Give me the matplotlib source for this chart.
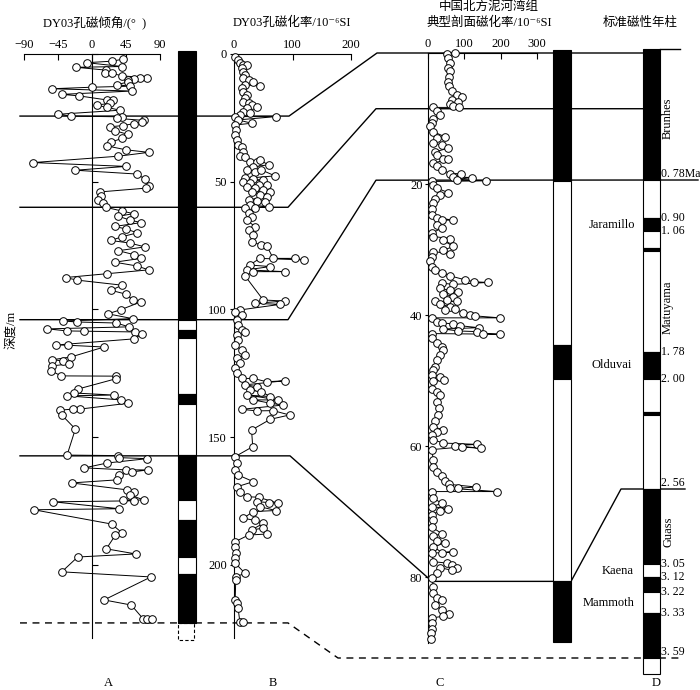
import numpy as np
import matplotlib
matplotlib.use('Agg')
import matplotlib.pyplot as plt
from matplotlib.lines import Line2D
from matplotlib.patches import Rectangle
from matplotlib.transforms import blended_transform_factory

plt.rcParams['font.family'] = ['Liberation Serif', 'Noto Sans CJK SC', 'DejaVu Sans']
plt.rcParams['font.size'] = 9

# ---- data -------------------------------------------------------------
# A: DY03 inclination (depth m, degrees)
incl_depth = [2.0, 2.8, 3.4, 4.9, 5.2, 6.3, 7.3, 7.5, 8.6, 9.2, 9.4, 9.6, 10.2, 11.0,
              12.0, 12.6, 13.0, 13.6, 14.5, 15.8, 16.4, 18.0, 18.2, 19.3, 20.0, 20.9,
              22.0, 23.6, 24.3, 24.6, 25.2, 26.0, 26.8, 27.3, 28.0, 28.5,
              30.0, 31.5, 33.0, 34.5, 36.0, 37.5, 38.5, 40.0, 42.5, 44.0, 45.5, 47.0,
              49.0, 51.5, 52.5, 54.0, 55.5, 57.0, 58.5, 60.0, 61.5, 62.5, 63.5, 65.0,
              66.0, 67.5, 68.5, 70.0, 71.5, 73.0, 74.0, 75.5, 77.0, 78.5, 80.0, 81.5,
              83.0, 84.5, 86.0, 87.5, 88.5, 90.5, 92.5, 94.0,
              96.3, 97.0, 100.1, 101.7, 103.6, 104.5, 104.9, 105.3, 106.8, 107.6, 108.4,
              108.5, 108.8, 109.6, 111.5, 113.9, 114.0, 114.7, 118.6, 119.7, 120.1, 121.3,
              122.1, 124.0, 126.0, 126.1, 127.1, 131.1, 132.7, 133.5, 133.8, 135.4, 136.7,
              139.0, 139.0, 139.4, 141.3, 146.8, 157.0,
              157.2, 158.0, 158.4, 160.1, 162.0, 162.8, 162.8, 163.6, 164.8, 166.7, 167.9,
              170.6, 171.4, 172.6, 174.6, 174.6, 174.9, 175.3, 178.0, 178.4, 184.0, 187.5,
              188.3, 193.7, 195.7, 196.9, 202.7, 204.7, 213.7, 215.7, 221.2, 221.2, 221.2]
incl_value = [41, 27, -7, 40, -21, 18, 17, 26, 40, 73, 63, 55, 48, 47,
              33, 50, 0, -53, 53, -40, -17, 20, 28, 24, 6, 20,
              37, -45, -28, 40, 33, 69, 66, 55, 41, 24,
              30, 48, 40, 25, 20, 45, 75, 35, -78, 45, -22, 60,
              70, 75, 72, 10, 12, 8, 15, 18, 40, 55, 35, 50,
              65, 30, 45, 60, 40, 25, 50, 70, 35, 55, 65, 30,
              60, 75, 20, -35, -20, 40, 25, 45,
              54, 65, 38, 21, 54, -39, -20, 32, 49, -59, -33,
              -10, 57, 66, 56, -47, -32, 16, -28, -53, -39, -30,
              -53, -54, -41, 32, 32, -18, -24, 29, -33, 38, 48,
              -16, -25, -42, -40, -22, -33,
              34, 36, 73, 20, -10, 45, 74, 53, 36, 33, -27,
              46, 55, 50, 69, 41, 55, -51, 36, -77, 26, 40,
              31, 19, 58, -19, -40, 78, 16, 52, 68, 73, 80]

# B: DY03 susceptibility (depth m, 10^-6 SI)
susB_depth = [1.3, 2.3, 3.6, 4.3, 4.3, 5.6, 6.9, 8.2, 9.5, 10.2, 10.8, 12.5, 12.1, 13.4,
              14.7, 16.0, 17.3, 18.7, 19.3, 20.0, 20.9, 21.3, 22.6, 23.2, 23.9, 24.5,
              24.5, 25.8, 27.1, 27.8, 29.7, 31.7, 33.7, 35.6, 36.3, 38.2, 39.9, 40.2,
              42.1, 42.1, 41.5, 43.4, 44.1, 45.4, 46.1, 45.4, 47.7, 48.7, 49.1, 49.3,
              50.0, 50.6, 51.3, 51.3, 51.9, 52.6, 53.2, 53.9, 53.9, 55.2, 55.8, 57.1,
              57.5, 57.8, 59.1, 59.8, 60.4, 60.4, 62.4, 63.7, 65.0, 67.6, 68.9, 70.8,
              73.5, 74.8, 75.1, 80.0, 80.0, 80.6, 80.0, 82.6, 83.2, 84.5, 85.2, 85.2,
              86.9, 96.3, 96.7, 97.6, 98.0, 100.2, 100.9, 102.2, 104.1, 106.1, 108.0,
              108.7, 110.0, 111.9, 113.9, 115.9, 117.8, 119.1, 121.1, 123.0, 125.0,
              127.0, 127.0, 128.3, 127.9, 129.5, 130.2, 131.5, 132.2, 134.1, 133.5,
              135.4, 135.4, 136.7, 137.4, 139.1, 139.7, 139.6, 141.3, 143.0, 147.2,
              153.7, 157.6, 160.2, 162.8, 164.8, 167.4, 169.4, 171.3, 173.3, 173.5,
              175.9, 175.6, 175.2, 177.2, 178.7, 179.1, 181.7, 182.6, 183.7, 186.3,
              185.6, 187.9, 188.3, 190.9, 192.8, 195.4, 197.4, 199.3, 203.3, 204.6,
              205.9, 213.7, 215.0, 217.0, 222.2, 222.2]
susB_value = [2, 7, 10, 16, 22, 13, 16, 19, 16, 25, 33, 44, 19, 13,
              16, 22, 19, 16, 25, 30, 40, 22, 16, 27, 10, 2,
              72, 7, 30, 2, 3, 2, 5, 7, 13, 16, 10, 19,
              27, 39, 44, 59, 33, 22, 36, 47, 70, 19, 33, 50,
              16, 27, 42, 56, 22, 36, 50, 62, 30, 44, 56, 25,
              39, 53, 27, 60, 19, 36, 25, 30, 22, 36, 25, 33,
              30, 47, 56, 67, 104, 120, 44, 27, 62, 22, 87, 33,
              19, 50, 87, 36, 79, 10, 2, 13, 5, 7, 13,
              19, 5, 7, 2, 13, 19, 5, 10, 2, 5,
              13, 33, 56, 87, 19, 39, 27, 47, 62, 22,
              76, 33, 62, 84, 13, 39, 67, 95, 62, 30,
              32, 2, 5, 2, 7, 33, 5, 10, 22, 42,
              76, 59, 39, 44, 72, 33, 16, 36, 50, 30,
              50, 56, 25, 2, 2, 3, 2, 2, 19, 3,
              3, 2, 5, 7, 10, 15]

# C: Nihewan Formation typical section susceptibility (depth m, 10^-6 SI)
susC_depth = [0.0, 0.2, 0.8, 1.6, 2.3, 2.8, 3.6, 4.4, 5.1, 5.8, 6.4, 6.7, 7.1, 7.4,
              7.8, 8.1, 8.3, 8.3, 8.8, 9.5, 10.0, 10.7, 11.2, 12.0, 12.8, 13.0, 13.8,
              14.0, 14.5, 15.1, 15.6, 16.1, 16.2, 16.8, 17.3, 17.8, 18.4, 18.4, 18.9,
              19.0, 19.3, 19.5, 19.6, 20.1, 20.6, 21.3, 21.7, 22.2, 22.9, 23.8, 24.7,
              25.1, 25.5, 25.5, 26.2, 26.7, 27.5, 28.0, 28.3, 28.6, 29.5, 30.1, 30.6,
              30.3, 31.1, 31.8, 32.6, 33.1, 33.5, 34.0, 34.6, 34.9, 35.0, 35.3, 35.1,
              35.9, 36.2, 36.4, 36.7, 37.2, 37.7, 37.9, 37.9, 38.3, 38.7, 39.2, 39.1,
              39.6, 40.0, 40.1, 40.4, 40.4, 41.0, 41.2, 41.3, 41.6, 41.9, 42.1, 42.4,
              42.5, 42.8, 42.9, 42.8, 43.5, 44.2, 44.8, 45.3, 46.1, 46.8, 47.9,
              48.4, 49.1, 49.4, 49.9, 50.1, 51.2, 51.7, 52.2, 53.2, 54.2, 55.2, 56.2,
              57.0, 57.5, 57.8, 58.3, 59.0, 59.5, 59.7, 59.9, 60.3, 60.1, 60.5, 62.1,
              63.1, 63.9, 64.6, 65.3, 65.8, 66.2, 66.4, 66.4, 66.9, 66.9, 67.9, 68.7,
              69.2, 69.5, 69.8, 70.5, 71.2, 72.3, 73.3, 73.7, 74.5, 74.7, 75.3, 76.2,
              76.1, 76.3, 77.6, 77.8, 78.1, 78.6, 78.9, 78.5, 79.3, 80.1, 81.4, 82.4,
              83.2, 83.4, 84.2, 84.9, 85.5, 85.9, 86.2, 87.0, 87.8, 88.5, 89.4]
susC_value = [74, 51, 56, 61, 56, 61, 59, 56, 59, 65, 79, 93, 65, 83,
              61, 70, 86, 15, 24, 33, 15, 10, 6, 15, 47, 24, 15,
              38, 56, 19, 24, 42, 56, 15, 24, 38, 61, 90, 70,
              120, 79, 160, 10, 15, 24, 56, 33, 19, 15, 10, 10,
              24, 68, 38, 24, 38, 10, 15, 61, 42, 70, 42, 61,
              15, 10, 6, 10, 19, 38, 61, 102, 127, 164, 70, 38,
              33, 61, 83, 42, 70, 51, 79, 19, 33, 61, 47, 74,
              97, 116, 129, 198, 10, 24, 38, 70, 88, 139, 42, 83,
              134, 152, 198, 10, 10, 24, 38, 42, 33, 24, 19,
              15, 10, 33, 44, 15, 10, 24, 33, 24, 31, 28, 19,
              15, 42, 24, 10, 15, 42, 134, 74, 146, 93, 10, 15,
              15, 24, 38, 47, 59, 132, 83, 61, 189, 10, 15, 38,
              10, 56, 33, 10, 15, 10, 38, 15, 24, 47, 15, 38,
              70, 10, 15, 51, 65, 79, 65, 33, 24, 10, 15, 15,
              24, 38, 19, 38, 59, 42, 10, 10, 10, 7, 7]

# polarity columns: zone boundaries and normal(1)/reversed(0) for each zone
polA_edges = [-1.2, 104.1, 108.0, 111.2, 133.1, 137.0, 156.9, 174.6, 182.4, 196.9, 203.5, 222.7]
polA_normal = [1, 0, 1, 0, 1, 0, 1, 0, 1, 0, 1]
polA_unknown = [222.7, 229.4]
polC_edges = [-0.5, 19.6, 44.6, 49.8, 80.5, 89.9]
polC_normal = [1, 0, 1, 0, 1]
gpts_edges = [0, 0.78, 0.90, 1.06, 1.19, 1.21, 1.78, 2.00, 2.14, 2.15, 2.56,
              3.05, 3.12, 3.22, 3.33, 3.59, 3.70]
gpts_normal = [1, 0, 1, 0, 1, 0, 1, 0, 1, 0, 1, 0, 1, 0, 1, 0]

# correlation ties
tie_B = [24.3, 60.0, 104.0, 157.3, 222.7]
tie_C = [0.0, 8.5, 19.4, 80.6]
tie_D = [0.78, 2.56, 3.59]

chrons = ['Brunhes', 'Matuyama', 'Guass']
chron_age = [0.41, 1.53, 2.84]
subchrons = ['Jaramillo', 'Olduvai', 'Kaena', 'Mammoth']
subchron_age = [0.98, 1.89, 3.09, 3.28]
age_labels = ['0. 78Ma', '0. 90', '1. 06', '1. 78', '2. 00', '2. 56',
              '3. 05', '3. 12', '3. 22', '3. 33', '3. 59']
age_label_at = [0.78, 0.90, 1.06, 1.78, 2.00, 2.56, 3.05, 3.12, 3.22, 3.33, 3.59]
age_underlined = [True, False, False, False, False, True,
                  False, False, False, False, True]

# ---- layout -----------------------------------------------------------
W, H = 700, 690
fig = plt.figure(figsize=(7, 6.9), dpi=100)


def box(x0, y0, x1, y1):
    return [x0 / W, 1 - y1 / H, (x1 - x0) / W, (y1 - y0) / H]


def series(ax, x, y):
    ax.plot(x, y, '-o', color='k', lw=0.7, ms=5.5, mfc='white', mec='k', mew=0.7,
            clip_on=False, zorder=3)


def polarity(ax, edges, normal):
    for top, bot, n in zip(edges[:-1], edges[1:], normal):
        ax.bar(0.5, bot - top, bottom=top, width=1, color='k' if n else 'white',
               edgecolor='k', linewidth=0.8, clip_on=False)


def column_axes(rect, ylim):
    ax = fig.add_axes(box(*rect))
    ax.set_xlim(0, 1)
    ax.set_ylim(*ylim)
    ax.axis('off')
    return ax


# panel A
axA = fig.add_axes(box(24, 54, 160, 638))
axA.set_facecolor('none')
axA.set_xlim(-90, 90)
axA.set_ylim(228.6, 0)
for s in ['right', 'bottom']:
    axA.spines[s].set_visible(False)
axA.spines['left'].set_position(('data', 0))
axA.xaxis.set_ticks_position('top')
axA.set_xticks([-90, -45, 0, 45, 90])
axA.tick_params(axis='x', direction='in', length=4, pad=2, labelsize=9)
axA.set_yticks([0, 50, 100, 150, 200])
axA.tick_params(axis='y', direction='in', length=4, labelleft=False)
series(axA, incl_value, incl_depth)

axAc = column_axes((178, 54, 196, 638), (228.6, 0))
polarity(axAc, polA_edges, polA_normal)
axAc.add_patch(Rectangle((0.0, polA_unknown[0]), 0.9, polA_unknown[1] - polA_unknown[0],
                         fill=False, ls=(0, (3, 2)), lw=0.8, ec='k', clip_on=False))

# panel B
axB = fig.add_axes(box(234, 54, 351, 638))
axB.set_facecolor('none')
axB.set_xlim(0, 200)
axB.set_ylim(228.6, 0)
for s in ['right', 'bottom']:
    axB.spines[s].set_visible(False)
axB.xaxis.set_ticks_position('top')
axB.set_xticks([0, 100, 200])
axB.tick_params(axis='x', direction='in', length=4, pad=2, labelsize=9)
axB.set_yticks([0, 50, 100, 150, 200])
axB.tick_params(axis='y', direction='out', length=3, pad=2, labelsize=9)
series(axB, susB_value, susB_depth)

# panel C
axC = fig.add_axes(box(428, 53, 537, 643))
axC.set_facecolor('none')
axC.set_xlim(0, 300)
axC.set_ylim(90, 0)
for s in ['right', 'bottom']:
    axC.spines[s].set_visible(False)
axC.xaxis.set_ticks_position('top')
axC.set_xticks([0, 100, 200, 300])
axC.tick_params(axis='x', direction='in', length=4, pad=2, labelsize=9)
axC.set_yticks([20, 40, 60, 80])
axC.tick_params(axis='y', direction='out', length=2, pad=2, labelsize=9)
series(axC, susC_value, susC_depth)

axCc = column_axes((553, 53, 571, 643), (90, 0))
polarity(axCc, polC_edges, polC_normal)

# panel D (standard GPTS, stretched age scale)
scale_age = [0, 0.78, 0.90, 1.06, 1.19, 1.21, 1.78, 2.00, 2.14, 2.15, 2.56,
             3.05, 3.12, 3.22, 3.33, 3.59, 3.70]
scale_px = [49, 180, 218, 231, 248, 251, 352, 379, 412, 415, 489,
            564, 577, 592, 613, 658, 674]
axD = fig.add_axes(box(643, 49, 660, 674))
axD.set_yscale('function', functions=(lambda a: np.interp(a, scale_age, scale_px),
                                      lambda p: np.interp(p, scale_px, scale_age)))
axD.set_xlim(0, 1)
axD.set_ylim(3.70, 0)
axD.axis('off')
polarity(axD, gpts_edges, gpts_normal)


# ---- correlation lines --------------------------------------------------
def tie(points, **kw):
    inv = fig.transFigure.inverted()
    xs, ys = [], []
    for xpx, ax, val in points:
        tr = blended_transform_factory(fig.transFigure, ax.transData)
        fx, fy = inv.transform(tr.transform((xpx / W, val)))
        xs.append(fx)
        ys.append(fy)
    fig.add_artist(Line2D(xs, ys, color='k', lw=kw.get('lw', 1.0),
                          ls=kw.get('ls', '-'), zorder=-1,
                          transform=fig.transFigure))


tie([(20, axB, tie_B[0]), (289, axB, tie_B[0]), (377, axC, tie_C[0]), (643, axC, tie_C[0])])
tie([(20, axB, tie_B[1]), (288, axB, tie_B[1]), (376, axC, tie_C[1]), (643, axC, tie_C[1])])
tie([(20, axB, tie_B[2]), (288, axB, tie_B[2]), (376, axC, tie_C[2]), (698, axD, tie_D[0])])
tie([(20, axB, tie_B[3]), (290, axB, tie_B[3]), (432, axC, tie_C[3]), (571, axC, tie_C[3]),
     (621, axD, tie_D[1]), (685, axD, tie_D[1])])
tie([(20, axB, tie_B[4]), (288, axB, tie_B[4]), (338, axD, tie_D[2]), (682, axD, tie_D[2])],
    ls=(0, (5, 4)), lw=1.0)
tie([(660, axD, 0.0), (680, axD, 0.0)])

# ---- texts --------------------------------------------------------------
trD = blended_transform_factory(fig.transFigure, axD.transData)
for name, a in zip(chrons, chron_age):
    axD.text(668 / W, a, name, transform=trD, rotation=90, ha='center', va='center',
             fontsize=9)
for name, a, xpx in zip(subchrons, subchron_age, [612, 612, 618, 609]):
    axD.text(xpx / W, a, name, transform=trD, ha='center', va='center', fontsize=9)
for lab, a, under in zip(age_labels, age_label_at, age_underlined):
    axD.text(661 / W, a, lab, transform=trD, ha='left',
             va='bottom' if under else 'center', fontsize=8.5)

fig.text(95 / W, 1 - 23 / H, 'DY03孔磁倾角/(°  )', ha='center', va='center', fontsize=9)
fig.text(292 / W, 1 - 23 / H, 'DY03孔磁化率/10⁻⁶SI', ha='center', va='center', fontsize=9)
fig.text(489 / W, 1 - 7 / H, '中国北方泥河湾组', ha='center', va='center', fontsize=9)
fig.text(489 / W, 1 - 23 / H, '典型剖面磁化率/10⁻⁶SI', ha='center', va='center', fontsize=9)
fig.text(640 / W, 1 - 23 / H, '标准磁性年柱', ha='center', va='center', fontsize=9)
fig.text(11 / W, 1 - 330 / H, '深度/m', rotation=90, ha='center', va='center', fontsize=9)
for lab, xpx in zip(['A', 'B', 'C', 'D'], [108, 273, 440, 656]):
    fig.text(xpx / W, 1 - 683 / H, lab, ha='center', va='center', fontsize=9)

fig.savefig('out.png', dpi=100)
